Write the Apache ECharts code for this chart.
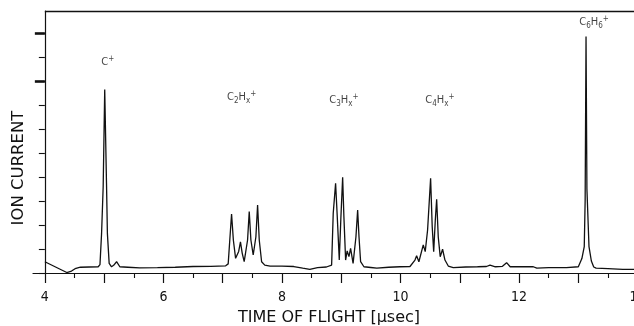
<!DOCTYPE html>
<html>
<head>
<meta charset="utf-8">
<script src="https://cdn.jsdelivr.net/npm/echarts@6/dist/echarts.min.js"></script>
<style>
html,body{margin:0;padding:0;background:#fff;}
#c{width:634px;height:326px;}
</style>
</head>
<body>
<div id="c"></div>
<script>
// Time of flight (µs) and ion current (arb. units)
const tof = [4.00,4.37,4.45,4.51,4.60,4.75,4.90,4.93,4.957,4.984,5.01,5.04,5.055,5.085,5.125,5.16,5.21,5.265,5.40,5.60,5.90,6.20,6.50,6.80,7.05,
  7.093,7.12,7.15,7.18,7.218,7.27,7.30,7.33,7.363,7.42,7.448,7.476,7.515,7.56,7.589,7.617,7.657,7.71,7.80,8.00,8.20,8.35,8.47,8.60,8.75,
  8.838,8.865,8.905,8.933,8.967,8.995,9.024,9.045,9.074,9.10,9.13,9.158,9.20,9.248,9.277,9.30,9.327,9.383,9.50,9.60,9.80,9.99,
  10.16,10.244,10.272,10.31,10.384,10.417,10.457,10.508,10.535,10.56,10.587,10.61,10.637,10.67,10.71,10.75,10.806,10.89,
  11.10,11.30,11.45,11.51,11.60,11.72,11.79,11.85,12.00,12.24,12.30,12.50,12.80,13.00,
  13.06,13.10,13.115,13.13,13.145,13.18,13.22,13.26,13.30,13.50,13.75,14.00];
const current = [0.47,0.02,0.08,0.18,0.24,0.25,0.26,0.35,1.65,3.6,7.65,3.75,1.65,0.4,0.26,0.32,0.47,0.26,0.24,0.21,0.22,0.24,0.27,0.28,0.30,
  0.38,1.375,2.46,1.375,0.61,0.9,1.3,0.82,0.47,1.375,2.56,1.375,0.75,1.5,2.83,1.375,0.47,0.33,0.29,0.29,0.27,0.2,0.15,0.22,0.25,
  0.33,2.49,3.74,2.35,0.54,2.35,3.99,2.35,0.54,0.92,0.68,1.03,0.4,1.5,2.62,1.5,0.47,0.26,0.23,0.2,0.24,0.26,
  0.27,0.54,0.72,0.47,1.17,0.89,1.79,3.95,1.93,0.89,2.2,3.07,1.5,0.68,0.99,0.54,0.29,0.22,
  0.25,0.26,0.27,0.33,0.26,0.28,0.43,0.26,0.26,0.26,0.2,0.22,0.22,0.26,
  0.6,1.1,3.0,9.85,3.5,1.1,0.5,0.25,0.2,0.18,0.15,0.15];

// Peak annotations
const annoX = [5.06, 7.32, 9.045, 10.665, 13.265];
const annoY = [8.79, 7.33, 7.21, 7.21, 10.46];
const annoText = ['{m|C}{p|+}', '{m|C}{s|2}{m|H}{s|x}{p|+}', '{m|C}{s|3}{m|H}{s|x}{p|+}', '{m|C}{s|4}{m|H}{s|x}{p|+}', '{m|C}{s|6}{m|H}{s|6}{p|+}'];

// Axis ticks and labels
const xMajorTicks = [4,5,6,7,8,9,10,11,12,13,14];
const xMinorTicks = [4.5,5.5,6.5,7.5,8.5,9.5,10.5,11.5,12.5,13.5];
const xLabels = [4,6,8,10,12,14];
const yTicks = [0,1,2,3,4,5,6,7,8,9,10];
const yMajorTicks = [8,10];

const xMin = 3.8, xMax = 14, yMin = 0, yMax = 10.9167;
const INK = '#111';
const numFont = "'DejaVu Sans Condensed','Liberation Sans Narrow','Liberation Sans',sans-serif";

const chart = echarts.init(document.getElementById('c'), null, {renderer: 'canvas'});
const lineData = tof.map((t, i) => [t, current[i]]);
const annoData = annoX.map((x, i) => ({value: [x, annoY[i]], label: {formatter: annoText[i]}}));

chart.setOption({
  animation: false,
  backgroundColor: '#fff',
  grid: {left: 33, right: -3.6, top: 11, bottom: 53, containLabel: false, outerBoundsMode: 'none'},
  xAxis: [{
    type: 'value', min: xMin, max: xMax,
    axisLine: {show: true, onZero: false, lineStyle: {color: INK, width: 1.2}},
    axisTick: {show: true, customValues: xMajorTicks, length: 10, lineStyle: {color: INK, width: 1.2}},
    axisLabel: {show: true, customValues: xLabels, margin: 17, color: INK, fontSize: 14, fontFamily: numFont, hideOverlap: false},
    splitLine: {show: false}
  }, {
    type: 'value', min: xMin, max: xMax, position: 'bottom',
    axisLine: {show: false, onZero: false},
    axisTick: {show: true, customValues: xMinorTicks, length: 5, lineStyle: {color: INK, width: 1.1}},
    axisLabel: {show: false},
    splitLine: {show: false}
  }],
  yAxis: [{
    type: 'value', min: yMin, max: yMax, offset: -11.85,
    axisLine: {show: true, onZero: false, lineStyle: {color: INK, width: 1.2}},
    axisTick: {show: true, customValues: yTicks, length: 6, lineStyle: {color: INK, width: 1.1}},
    axisLabel: {show: false},
    splitLine: {show: false}
  }, {
    type: 'value', min: yMin, max: yMax, offset: -11.85, position: 'left',
    axisLine: {show: false, onZero: false},
    axisTick: {show: true, customValues: yMajorTicks, length: 10, lineStyle: {color: INK, width: 2.6}},
    axisLabel: {show: false},
    splitLine: {show: false}
  }],
  series: [{
    type: 'line', data: lineData, xAxisIndex: 0, yAxisIndex: 0,
    showSymbol: false, symbol: 'none',
    lineStyle: {color: INK, width: 1.3},
    markLine: {
      silent: true, symbol: 'none', label: {show: false},
      lineStyle: {color: INK, width: 1.3, type: 'solid'},
      data: [[{coord: [4, yMax]}, {coord: [xMax, yMax]}]]
    }
  }, {
    type: 'scatter', data: annoData, xAxisIndex: 0, yAxisIndex: 0,
    symbolSize: 0, silent: true,
    label: {
      show: true, position: 'inside', color: INK,
      rich: {
        m: {fontSize: 11, lineHeight: 15, verticalAlign: 'middle', fontFamily: numFont, color: INK},
        s: {fontSize: 8, lineHeight: 15, verticalAlign: 'bottom', fontFamily: numFont, color: INK},
        p: {fontSize: 8, lineHeight: 15, verticalAlign: 'top', fontFamily: numFont, color: INK}
      }
    }
  }],
  graphic: [{
    type: 'text', x: 329, y: 318,
    style: {text: 'TIME OF FLIGHT [μsec]', fill: INK, font: "16px 'DejaVu Sans', sans-serif", textAlign: 'center', textVerticalAlign: 'middle'}
  }, {
    type: 'text', x: 19, y: 168, rotation: Math.PI / 2,
    style: {text: 'ION CURRENT', fill: INK, font: "16.5px 'DejaVu Sans', sans-serif", textAlign: 'center', textVerticalAlign: 'middle'}
  }]
});
</script>
</body>
</html>
